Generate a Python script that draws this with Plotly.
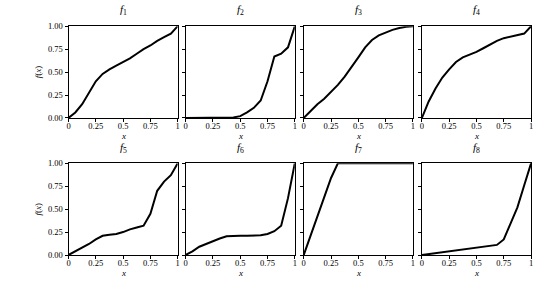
import plotly.graph_objects as go

x = [0, 0.0625, 0.125, 0.1875, 0.25, 0.3125, 0.375, 0.4375, 0.5,
     0.5625, 0.625, 0.6875, 0.75, 0.8125, 0.875, 0.9375, 1]

f1 = [0, 0.06, 0.15, 0.27, 0.40, 0.48, 0.53, 0.57, 0.61, 0.65, 0.70, 0.75, 0.79, 0.84, 0.88, 0.92, 1]
f2 = [0, 0, 0, 0, 0, 0, 0.002, 0.005, 0.02, 0.06, 0.11, 0.19, 0.40, 0.67, 0.70, 0.77, 1]
f3 = [0, 0.08, 0.15, 0.21, 0.28, 0.36, 0.45, 0.55, 0.66, 0.77, 0.85, 0.90, 0.93, 0.96, 0.98, 0.995, 1]
f4 = [0, 0.18, 0.32, 0.44, 0.53, 0.61, 0.66, 0.69, 0.72, 0.76, 0.80, 0.84, 0.87, 0.885, 0.90, 0.92, 1]
f5 = [0, 0.04, 0.08, 0.12, 0.17, 0.21, 0.22, 0.23, 0.25, 0.28, 0.30, 0.32, 0.45, 0.70, 0.80, 0.87, 1]
f6 = [0, 0.04, 0.09, 0.12, 0.155, 0.18, 0.205, 0.21, 0.21, 0.21, 0.21, 0.215, 0.23, 0.26, 0.32, 0.62, 1]
f7 = [0, 0.21, 0.42, 0.63, 0.84, 1, 1, 1, 1, 1, 1, 1, 1, 1, 1, 1, 1]
f8 = [0, 0.01, 0.02, 0.03, 0.04, 0.05, 0.06, 0.07, 0.08, 0.09, 0.10, 0.11, 0.17, 0.34, 0.52, 0.76, 1]

series = [f1, f2, f3, f4, f5, f6, f7, f8]
titles = ["<i>f</i><sub>%d</sub>" % i for i in range(1, 9)]

x_tickvals = [0, 0.25, 0.5, 0.75, 1]
x_ticktext = ["0", "0.25", "0.5", "0.75", "1"]
y_tickvals = [0, 0.25, 0.5, 0.75, 1]
y_ticktext = ["0.00", "0.25", "0.50", "0.75", "1.00"]

W, H = 540, 288
col_px = [(67, 177), (185, 295), (304, 414), (423, 533)]
row_px = [(22, 117), (164, 259)]

FONT = "Liberation Serif"
fig = go.Figure()
annotations = []
for i, ys in enumerate(series):
    r, c = divmod(i, 4)
    n = i + 1
    xa = "xaxis" if n == 1 else "xaxis%d" % n
    ya = "yaxis" if n == 1 else "yaxis%d" % n
    xref = "x" if n == 1 else "x%d" % n
    yref = "y" if n == 1 else "y%d" % n
    fig.add_trace(go.Scatter(x=x, y=ys, mode="lines", line=dict(color="black", width=2),
                             xaxis=xref, yaxis=yref, showlegend=False, hoverinfo="skip"))
    x0, x1 = col_px[c]
    y0, y1 = row_px[r]
    common = dict(showgrid=False, zeroline=False, showline=True, linecolor="black",
                  linewidth=1, mirror=True, ticks="outside", ticklen=3, tickwidth=1,
                  tickcolor="black", range=[0, 1], fixedrange=True,
                  tickfont=dict(family=FONT, size=8.5, color="black"))
    fig.layout[xa] = dict(common, domain=[x0 / W, x1 / W], anchor=yref,
                          tickvals=x_tickvals, ticktext=x_ticktext, ticklabelstandoff=-3)
    yd = dict(common, domain=[1 - y1 / H, 1 - y0 / H], anchor=xref,
              tickvals=y_tickvals, ticktext=y_ticktext, showticklabels=(c == 0))
    if c == 0:
        yd["title"] = dict(text="<i>f</i>(<i>x</i>)", font=dict(family=FONT, size=9, color="black"),
                           standoff=4)
    fig.layout[ya] = yd
    annotations.append(dict(text=titles[i], x=(x0 + x1) / 2 / W, y=1 - (y0 - 7) / H,
                            xref="paper", yref="paper", xanchor="center", yanchor="bottom",
                            showarrow=False, font=dict(family=FONT, size=11, color="black")))
    annotations.append(dict(text="<i>x</i>", x=(x0 + x1) / 2 / W, y=1 - (y1 + 19) / H,
                            xref="paper", yref="paper", xanchor="center", yanchor="middle",
                            showarrow=False, font=dict(family=FONT, size=9, color="black")))

fig.update_layout(width=W, height=H, margin=dict(l=0, r=0, t=0, b=0),
                  paper_bgcolor="white", plot_bgcolor="white", annotations=annotations)
fig.write_html("out.html", config={"displayModeBar": False},
               post_script="document.body.style.margin='0';")
